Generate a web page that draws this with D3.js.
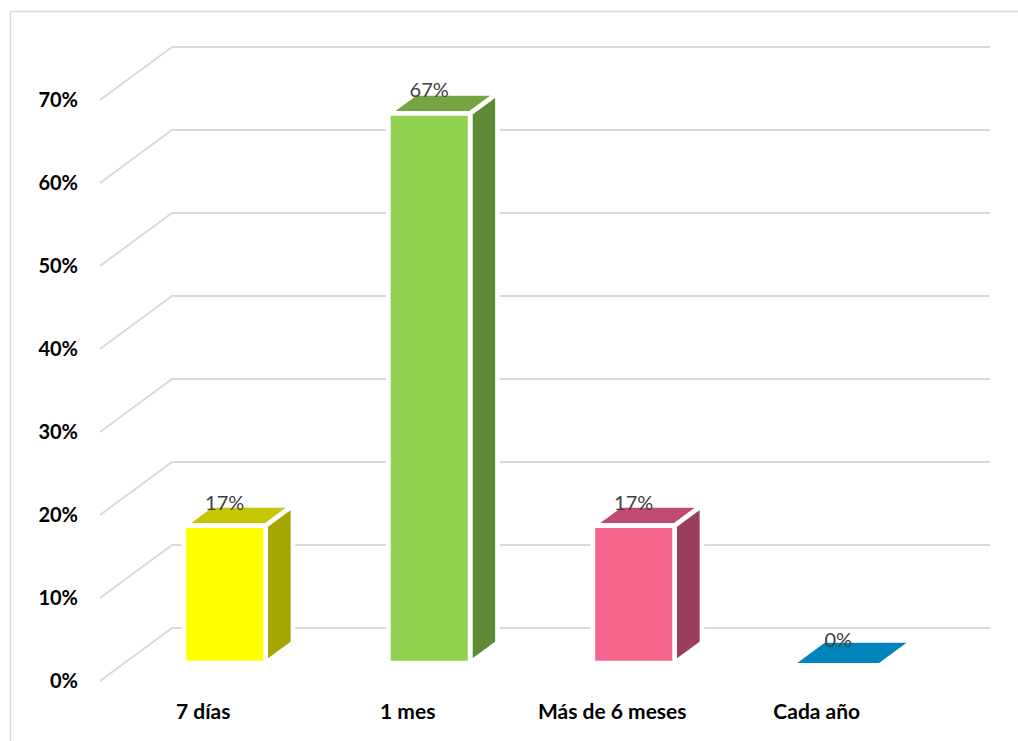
<!DOCTYPE html>
<html>
<head>
<meta charset="utf-8">
<script src="https://cdn.jsdelivr.net/npm/d3@7"></script>
<style>
  html, body { margin: 0; padding: 0; background: #fff; }
  svg { display: block; }
</style>
</head>
<body>
<svg id="chart" width="1018" height="741"></svg>
<script>
// Frecuencia de respuestas por periodo
const categories = ["7 días", "1 mes", "Más de 6 meses", "Cada año"];
const values = [1 / 6, 2 / 3, 1 / 6, 0];
const tickValues = [0, 0.1, 0.2, 0.3, 0.4, 0.5, 0.6, 0.7];
const frontColors = ["#FFFF00", "#92D050", "#F5658D", "#0085BA"];
const topColors = ["#C6C600", "#76A440", "#BF4B73", "#0085BA"];
const sideColors = ["#A6A600", "#5E8A33", "#9B3D5C", "#006A94"];

const svg = d3.select("#chart");

// Oblique projection: the floor recedes by this vector from front to back
const depth = { dx: 72, dy: -53 };
const barNear = 0.34, barFar = 0.72;   // bar position inside the depth

const x = d3.scaleBand()
  .domain(categories)
  .range([98, 916])
  .paddingInner(0.6)
  .paddingOuter(0.3);

const y = d3.scaleLinear().domain([0, 0.7]).range([681, 100]);
// bars sit further back, so their height scale is a touch shorter
const yBar = d3.scaleLinear().domain([0, 0.7]).range([681, 104]);

// Project a point (front-plane x, y position, depth fraction) to screen
const P = (px, py, f) => [px + f * depth.dx, py + f * depth.dy];

// Outer frame
svg.append("rect")
  .attr("x", 10.5).attr("y", 11.5)
  .attr("width", 1030).attr("height", 760)
  .attr("fill", "none").attr("stroke", "#D9D9D9").attr("stroke-width", 1.5);

// Gridlines on side wall and back wall
const grid = svg.append("g")
  .attr("fill", "none")
  .attr("stroke", "#D9D9D9")
  .attr("stroke-width", 2);
tickValues.forEach(t => {
  const a = P(100, y(t), 0), b = P(100, y(t), 1), c = P(918, y(t), 1);
  grid.append("path").attr("d", d3.line()([a, b, c]));
});

// Value axis labels
svg.append("g")
  .selectAll("text")
  .data(tickValues)
  .join("text")
  .attr("x", 78)
  .attr("y", d => y(d))
  .attr("dy", "0.35em")
  .attr("text-anchor", "end")
  .attr("font-family", "Lato, 'Open Sans', sans-serif")
  .attr("font-weight", "bold")
  .attr("font-size", 20)
  .attr("fill", "#000")
  .text(d3.format(".0%"));

// Category labels
svg.append("g")
  .selectAll("text")
  .data(categories)
  .join("text")
  .attr("x", d => x(d) + x.bandwidth() / 2 + 3)
  .attr("y", 719)
  .attr("text-anchor", "middle")
  .attr("font-family", "Lato, 'Open Sans', sans-serif")
  .attr("font-weight", "bold")
  .attr("font-size", 21)
  .attr("fill", "#000")
  .text(d => d);

// 3D bars
const bars = svg.append("g")
  .attr("stroke", "#fff")
  .attr("stroke-width", 4.7)
  .attr("stroke-linejoin", "miter");

categories.forEach((c, i) => {
  const v = values[i];
  const x0 = x(c), x1 = x(c) + x.bandwidth();
  const y0 = yBar(0), yv = yBar(v);
  const g = bars.append("g");
  // top face
  g.append("path")
    .attr("fill", topColors[i])
    .attr("stroke-width", v > 0 ? 4.7 : 0)
    .attr("d", d3.line()([P(x0, yv, barNear), P(x1, yv, barNear), P(x1, yv, barFar), P(x0, yv, barFar)]) + "Z");
  if (v > 0) {
    // right side face
    g.append("path")
      .attr("fill", sideColors[i])
      .attr("d", d3.line()([P(x1, y0, barNear), P(x1, y0, barFar), P(x1, yv, barFar), P(x1, yv, barNear)]) + "Z");
    // front face
    g.append("path")
      .attr("fill", frontColors[i])
      .attr("d", d3.line()([P(x0, y0, barNear), P(x1, y0, barNear), P(x1, yv, barNear), P(x0, yv, barNear)]) + "Z");
  }
});

// Data labels
svg.append("g")
  .selectAll("text")
  .data(categories)
  .join("text")
  .attr("x", (d, i) => P(x(d) + x.bandwidth() / 2, yBar(values[i]), barNear)[0])
  .attr("y", (d, i) => P(x(d), yBar(values[i]), barNear)[1] - 16)
  .attr("text-anchor", "middle")
  .attr("font-family", "Lato, 'Open Sans', sans-serif")
  .attr("font-size", 20)
  .attr("fill", "#404040")
  .text((d, i) => d3.format(".0%")(values[i]));
</script>
</body>
</html>
